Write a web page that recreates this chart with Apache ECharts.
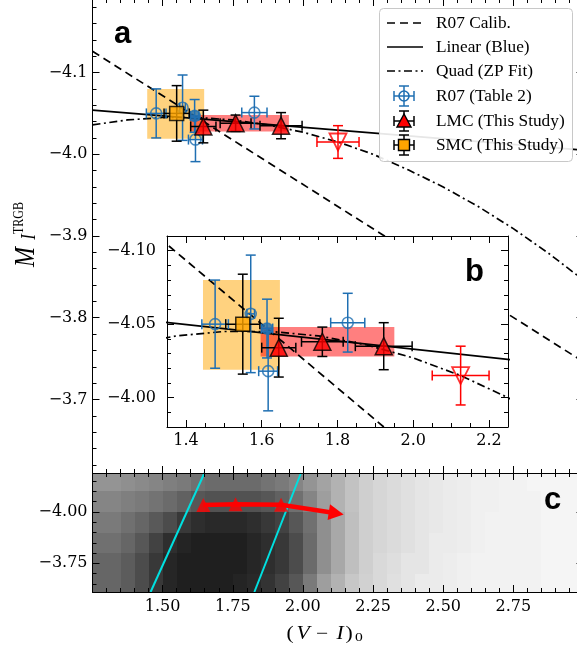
<!DOCTYPE html>
<html><head><meta charset="utf-8">
<script src="https://cdn.jsdelivr.net/npm/echarts@6/dist/echarts.min.js"></script>
<style>html,body{margin:0;padding:0;background:#fff}#c{width:577px;height:656px}</style>
</head><body><div id="c"></div>
<script>
// ---------------- DATA ----------------
const r07X    = [1.477, 1.571, 1.614, 1.617, 1.827];
const r07Y    = [-4.050, -4.057, -4.047, -4.018, -4.051];
const r07XErr = [0.035, 0.010, 0.015, 0.025, 0.045];
const r07YErr = [0.030, 0.040, 0.020, 0.027, 0.020];

const lmcX    = [1.645, 1.760, 1.922];
const lmcY    = [-4.034, -4.038, -4.035];
const lmcXErr = [0.045, 0.055, 0.075];
const lmcYErr = [0.020, 0.010, 0.016];

const smcX    = [1.550];
const smcY    = [-4.050];
const smcXErr = [0.045];
const smcYErr = [0.034];

const outX    = [2.125];
const outY    = [-4.015];
const outXErr = [0.075];
const outYErr = [0.020];

// shaded ranges: [x0, x1, y0, y1]
const smcBox = [1.445, 1.648, -4.080, -4.019];
const lmcBox = [1.597, 1.950, -4.048, -4.028];

// relations
const calibX = [1.25, 3.0];
const calibY = [-4.126, -3.746];
const linX   = [1.25, 3.0];
const linY   = [-4.054, -4.005];
const quadX  = [1.25, 1.375, 1.5, 1.625, 1.75, 1.875, 2.0, 2.125, 2.25, 2.375, 2.5, 2.625, 2.75, 2.875, 3.0];
const quadY  = [-4.036, -4.042, -4.045, -4.045, -4.042, -4.036, -4.027, -4.015, -4.000, -3.981, -3.960, -3.936, -3.909, -3.879, -3.846];

// panel c
const cyan1X = [1.649, 1.457], cyan1Y = [-4.19, -3.61];
const cyan2X = [1.993, 1.827], cyan2Y = [-4.19, -3.61];
const arrowX = [1.922, 2.145], arrowY = [-4.035, -3.988];

// star density of panel c (darkness 0..1), cells 0.05 wide in colour, 0.1 tall in magnitude
const cellX = [1.275,1.325,1.375,1.425,1.475,1.525,1.575,1.625,1.675,1.725,1.775,1.825,1.875,1.925,1.975,2.025,2.075,2.125,2.175,2.225,2.275,2.325,2.375,2.425,2.475,2.525,2.575,2.625,2.675,2.725,2.775,2.825,2.875,2.925,2.975];
const cellY = [-4.15, -4.05, -3.95, -3.85, -3.75, -3.65];
const densRow1 = [0.42,0.42,0.44,0.46,0.48,0.50,0.52,0.56,0.58,0.58,0.58,0.58,0.55,0.52,0.48,0.42,0.36,0.30,0.24,0.19,0.16,0.14,0.12,0.10,0.09,0.08,0.07,0.06,0.06,0.05,0.05,0.04,0.04,0.04,0.04];
const densRow2 = [0.48,0.48,0.50,0.52,0.55,0.58,0.62,0.66,0.68,0.68,0.68,0.68,0.66,0.62,0.56,0.48,0.38,0.30,0.24,0.19,0.16,0.14,0.12,0.10,0.09,0.08,0.07,0.06,0.06,0.05,0.05,0.05,0.04,0.04,0.04];
const densRow3 = [0.52,0.52,0.56,0.60,0.65,0.70,0.78,0.82,0.84,0.84,0.84,0.82,0.78,0.74,0.66,0.56,0.44,0.34,0.25,0.19,0.16,0.14,0.12,0.10,0.09,0.08,0.07,0.06,0.05,0.05,0.05,0.05,0.04,0.04,0.04];
const densRow4 = [0.56,0.56,0.60,0.66,0.74,0.82,0.86,0.88,0.88,0.88,0.88,0.85,0.82,0.78,0.70,0.58,0.44,0.34,0.25,0.19,0.16,0.14,0.12,0.10,0.08,0.08,0.07,0.06,0.05,0.05,0.05,0.05,0.04,0.04,0.04];
const densRow5 = [0.60,0.60,0.64,0.70,0.78,0.85,0.88,0.88,0.88,0.88,0.88,0.85,0.82,0.78,0.70,0.58,0.44,0.34,0.25,0.19,0.15,0.13,0.10,0.10,0.08,0.07,0.06,0.05,0.05,0.05,0.05,0.05,0.04,0.04,0.04];
const densRow6 = [0.60,0.60,0.64,0.70,0.78,0.85,0.88,0.88,0.88,0.88,0.86,0.84,0.80,0.74,0.66,0.52,0.38,0.30,0.22,0.18,0.15,0.12,0.10,0.08,0.08,0.07,0.06,0.05,0.05,0.05,0.05,0.05,0.04,0.04,0.04];
const density = [densRow1, densRow2, densRow3, densRow4, densRow5, densRow6];

const legendNames = ['R07 Calib.', 'Linear (Blue)', 'Quad (ZP Fit)', 'R07 (Table 2)', 'LMC (This Study)', 'SMC (This Study)'];
const panelLetters = ['a', 'b', 'c'];
const filledR07Index = 2;

// ---------------- helpers ----------------
const BLUE = '#1f6fb2', ORANGE = '#ffa500', RED = '#ff0000', CYAN = '#00e0e0';
const TICKF = {fontFamily: 'DejaVu Serif', fontSize: 16, color: '#000'};
const minus = s => s.replace('-', '\u2212');
function seq(a, b, step, excl) {
  const out = []; const n = Math.round((b - a) / step);
  for (let i = 0; i <= n; i++) {
    const v = +(a + i * step).toFixed(4);
    if (!excl || !excl.some(e => Math.abs(e - v) < 1e-9)) out.push(v);
  }
  return out;
}
const xAxes = [], yAxes = [];
function ax(gi, min, max, pos, inverse, z) {
  return {type: 'value', gridIndex: gi, min, max, position: pos, inverse: !!inverse, z: z || 0,
    splitLine: {show: false},
    axisLine: {show: true, onZero: false, lineStyle: {color: '#000', width: 1}},
    axisLabel: {show: false},
    axisTick: {show: true, inside: true, length: 7, lineStyle: {color: '#000', width: 1}},
    minorTick: {show: false}};
}
function addX(o) { xAxes.push(o); return xAxes.length - 1; }
function addY(o) { yAxes.push(o); return yAxes.length - 1; }
function customTicks(base, vals, len, labels) {
  base.axisTick = {show: true, inside: true, length: len, customValues: vals, lineStyle: {color: '#000', width: 1}};
  if (labels) base.axisLabel = Object.assign({show: true, customValues: vals}, TICKF, labels);
  return base;
}
function minorInterval(base, interval) {
  base.interval = interval;
  base.axisLine.show = false;
  base.axisTick = {show: true, inside: true, length: 4, lineStyle: {color: '#000', width: 1}};
  return base;
}

// ---- Grid A (main) ----
const xA = addX(Object.assign(ax(0, 1.25, 3.0, 'bottom'), {interval: 0.25,
  minorTick: {show: true, splitNumber: 5, length: 4, lineStyle: {color: '#000', width: 1}}}));
addX(Object.assign(ax(0, 1.25, 3.0, 'top'), {interval: 0.25,
  minorTick: {show: true, splitNumber: 5, length: 4, lineStyle: {color: '#000', width: 1}}}));
const majA = [-4.1, -4.0, -3.9, -3.8, -3.7];
const minA = seq(-4.18, -3.62, 0.02, majA);
const yA = addY(customTicks(ax(0, -4.19, -3.61, 'left', true), majA, 7,
  {margin: 5, formatter: v => minus((+v).toFixed(1))}));
addY(customTicks(ax(0, -4.19, -3.61, 'left', true), minA, 4));
addY(customTicks(ax(0, -4.19, -3.61, 'right', true), majA, 7));
addY(customTicks(ax(0, -4.19, -3.61, 'right', true), minA, 4));

// ---- Grid B (inset) ----
const majBx = [1.4, 1.6, 1.8, 2.0, 2.2];
const majBy = [-4.10, -4.05, -4.00];
const xB = addX(customTicks(ax(1, 1.35, 2.25, 'bottom', false, 20), majBx, 7,
  {margin: 6, formatter: v => (+v).toFixed(1)}));
addX(minorInterval(ax(1, 1.35, 2.25, 'bottom', false, 20), 0.05));
addX(customTicks(ax(1, 1.35, 2.25, 'top', false, 20), majBx, 7));
addX(minorInterval(ax(1, 1.35, 2.25, 'top', false, 20), 0.05));
const yB = addY(customTicks(ax(1, -4.11, -3.98, 'left', true, 20), majBy, 7,
  {margin: 11, formatter: v => minus((+v).toFixed(2))}));
addY(minorInterval(ax(1, -4.11, -3.98, 'left', true, 20), 0.01));
addY(customTicks(ax(1, -4.11, -3.98, 'right', true, 20), majBy, 7));
addY(minorInterval(ax(1, -4.11, -3.98, 'right', true, 20), 0.01));

// ---- Grid C (CMD) ----
const xC = addX(Object.assign(ax(2, 1.25, 3.0, 'bottom', false, 20), {interval: 0.25,
  minorTick: {show: true, splitNumber: 5, length: 4, lineStyle: {color: '#000', width: 1}},
  axisLabel: Object.assign({show: true, margin: 7, showMinLabel: false, showMaxLabel: false,
    formatter: v => (+v).toFixed(2)}, TICKF)}));
addX(Object.assign(ax(2, 1.25, 3.0, 'top', false, 20), {interval: 0.25,
  minorTick: {show: true, splitNumber: 5, length: 4, lineStyle: {color: '#000', width: 1}}}));
const majC = [-4.00, -3.75];
const minC = seq(-4.15, -3.65, 0.05, majC);
const yC = addY(customTicks(ax(2, -4.19, -3.61, 'left', true, 20), majC, 7,
  {margin: 5, formatter: v => minus((+v).toFixed(2))}));
addY(customTicks(ax(2, -4.19, -3.61, 'left', true, 20), minC, 4));
addY(customTicks(ax(2, -4.19, -3.61, 'right', true, 20), majC, 7));
addY(customTicks(ax(2, -4.19, -3.61, 'right', true, 20), minC, 4));

// ---------------- series builders ----------------
const pairs = (xs, ys) => xs.map((x, i) => [x, ys[i]]);
function lineSeries(name, xi, yi, xs, ys, style, z) {
  return {type: 'line', name, xAxisIndex: xi, yAxisIndex: yi, data: pairs(xs, ys), showSymbol: false,
    symbol: 'none', clip: true, z, silent: true, lineStyle: style};
}
function boxSeries(name, xi, yi, box, color, z) {
  return {type: 'custom', name, xAxisIndex: xi, yAxisIndex: yi, z, silent: true,
    data: [[box[0], box[1], box[2], box[3]]],
    encode: {x: [0, 1], y: [2, 3]},
    renderItem: (p, api) => {
      const a = api.coord([api.value(0), api.value(2)]), b = api.coord([api.value(1), api.value(3)]);
      return {type: 'rect', shape: {x: Math.min(a[0], b[0]), y: Math.min(a[1], b[1]),
        width: Math.abs(b[0] - a[0]), height: Math.abs(b[1] - a[1])}, style: {fill: color}};
    }};
}
function errSeries(name, xi, yi, xs, ys, xe, ye, color, z) {
  return {type: 'custom', name, xAxisIndex: xi, yAxisIndex: yi, z, silent: true,
    data: xs.map((x, i) => [x, ys[i], xe[i], ye[i]]),
    encode: {x: 0, y: 1},
    renderItem: (p, api) => {
      const x = api.value(0), y = api.value(1), dx = api.value(2), dy = api.value(3);
      const l = api.coord([x - dx, y]), r = api.coord([x + dx, y]);
      const t = api.coord([x, y - dy]), b = api.coord([x, y + dy]);
      const st = {stroke: color, lineWidth: 1.5, fill: null};
      const c = 5;
      const L = (x1, y1, x2, y2) => ({type: 'line', shape: {x1, y1, x2, y2}, style: st});
      return {type: 'group', children: [
        L(l[0], l[1], r[0], r[1]), L(t[0], t[1], b[0], b[1]),
        L(l[0], l[1] - c, l[0], l[1] + c), L(r[0], r[1] - c, r[0], r[1] + c),
        L(t[0] - c, t[1], t[0] + c, t[1]), L(b[0] - c, b[1], b[0] + c, b[1])]};
    }};
}
function markSeries(name, xi, yi, xs, ys, symbol, size, style, z, rotate, dataMap) {
  let data = pairs(xs, ys);
  if (dataMap) data = data.map(dataMap);
  return {type: 'scatter', name, xAxisIndex: xi, yAxisIndex: yi, data, symbol, symbolSize: size,
    symbolRotate: rotate || 0, itemStyle: style, z, silent: true};
}

const S = [];
function mainPanel(xi, yi, zb) {
  S.push(boxSeries('SMC range', xi, yi, smcBox, 'rgba(255,165,0,0.5)', zb + 1));
  S.push(boxSeries('LMC range', xi, yi, lmcBox, 'rgba(255,0,0,0.5)', zb + 1));
  S.push(lineSeries(legendNames[0], xi, yi, calibX, calibY, {color: '#000', width: 1.7, type: [8, 5]}, zb + 2));
  S.push(lineSeries(legendNames[1], xi, yi, linX, linY, {color: '#000', width: 1.7}, zb + 2));
  S.push(lineSeries(legendNames[2], xi, yi, quadX, quadY, {color: '#000', width: 1.7, type: [8, 3.5, 2, 3.5]}, zb + 2));
  S.push(errSeries(legendNames[3] + ' err', xi, yi, r07X, r07Y, r07XErr, r07YErr, BLUE, zb + 3));
  S.push(markSeries(legendNames[3], xi, yi, r07X, r07Y, 'circle', 11,
    {color: 'rgba(0,0,0,0)', borderColor: BLUE, borderWidth: 1.6}, zb + 4, 0,
    (d, i) => i === filledR07Index ? {value: d, itemStyle: {color: BLUE}} : d));
  S.push(errSeries('Red limit err', xi, yi, outX, outY, outXErr, outYErr, RED, zb + 5));
  S.push(markSeries('Red limit', xi, yi, outX, outY, 'triangle', 17,
    {color: 'rgba(0,0,0,0)', borderColor: RED, borderWidth: 1.8}, zb + 6, 180));
  S.push(errSeries(legendNames[4] + ' err', xi, yi, lmcX, lmcY, lmcXErr, lmcYErr, '#000', zb + 5));
  S.push(markSeries(legendNames[4], xi, yi, lmcX, lmcY, 'triangle', 17,
    {color: RED, borderColor: '#000', borderWidth: 1.5}, zb + 6));
  S.push(errSeries(legendNames[5] + ' err', xi, yi, smcX, smcY, smcXErr, smcYErr, '#000', zb + 7));
  S.push(markSeries(legendNames[5], xi, yi, smcX, smcY, 'rect', 14,
    {color: ORANGE, borderColor: '#000', borderWidth: 1.5}, zb + 8));
}
mainPanel(xA, yA, 0);
// white inset background
S.push({type: 'custom', name: 'inset bg', xAxisIndex: xB, yAxisIndex: yB, z: 10, silent: true,
  data: [[1.8, -4.05]], encode: {x: 0, y: 1},
  renderItem: (p) => ({type: 'rect', shape: {x: p.coordSys.x, y: p.coordSys.y,
    width: p.coordSys.width, height: p.coordSys.height}, style: {fill: '#fff'}})});
mainPanel(xB, yB, 10);

// panel c density cells
const cells = [];
cellY.forEach((y, j) => cellX.forEach((x, i) => cells.push([x, y, density[j][i]])));
S.push({type: 'custom', name: 'CMD density', xAxisIndex: xC, yAxisIndex: yC, z: 1, silent: true,
  data: cells, encode: {x: 0, y: 1},
  renderItem: (p, api) => {
    const x = api.value(0), y = api.value(1), d = api.value(2);
    const a = api.coord([x - 0.025, y - 0.05]), b = api.coord([x + 0.025, y + 0.05]);
    const x0 = Math.round(Math.min(a[0], b[0])), x1 = Math.round(Math.max(a[0], b[0]));
    const y0 = Math.round(Math.min(a[1], b[1])), y1 = Math.round(Math.max(a[1], b[1]));
    const cs = p.coordSys;
    const rect = echarts.graphic.clipRectByRect({x: x0, y: y0, width: x1 - x0, height: y1 - y0},
      {x: cs.x, y: cs.y, width: cs.width, height: cs.height});
    if (!rect) return null;
    return {type: 'rect', shape: rect, style: {fill: 'rgba(0,0,0,' + d + ')'}};
  }});
S.push(lineSeries('RGB edge 1', xC, yC, cyan1X, cyan1Y, {color: CYAN, width: 2}, 2));
S.push(lineSeries('RGB edge 2', xC, yC, cyan2X, cyan2Y, {color: CYAN, width: 2}, 2));
S.push(lineSeries('LMC track', xC, yC, lmcX, lmcY, {color: RED, width: 4.5}, 3));
S.push({type: 'custom', name: 'LMC shift', xAxisIndex: xC, yAxisIndex: yC, z: 3, silent: true,
  data: [[arrowX[0], arrowY[0], arrowX[1], arrowY[1]]], encode: {x: [0, 2], y: [1, 3]},
  renderItem: (p, api) => {
    const a = api.coord([api.value(0), api.value(1)]), b = api.coord([api.value(2), api.value(3)]);
    const dx = b[0] - a[0], dy = b[1] - a[1], len = Math.hypot(dx, dy);
    const ux = dx / len, uy = dy / len, hl = 15, hw = 8;
    const bx = b[0] - ux * hl, by = b[1] - uy * hl;
    return {type: 'group', children: [
      {type: 'line', shape: {x1: a[0], y1: a[1], x2: bx + ux, y2: by + uy}, style: {stroke: RED, lineWidth: 4.5}},
      {type: 'polygon', shape: {points: [[b[0], b[1]], [bx - uy * hw, by + ux * hw], [bx + uy * hw, by - ux * hw]]},
        style: {fill: RED}}]};
  }});
S.push(markSeries('LMC (panel c)', xC, yC, lmcX, lmcY, 'triangle', 14, {color: RED}, 4));

// ---------------- graphic: legend, panel letters, axis titles ----------------
const G = [];
G.push({type: 'rect', z: 100, shape: {x: 379.5, y: 8.5, width: 193, height: 153, r: 4},
  style: {fill: 'rgba(255,255,255,0.9)', stroke: '#c8c8c8', lineWidth: 1}});
const LY = [23, 47, 71, 96, 121, 145];
const LX0 = 387, LX1 = 423, LXC = 404;
G.push({type: 'line', z: 101, shape: {x1: LX0, y1: LY[0], x2: LX1, y2: LY[0]}, style: {stroke: '#000', lineWidth: 1.7, lineDash: [8, 5]}});
G.push({type: 'line', z: 101, shape: {x1: LX0, y1: LY[1], x2: LX1, y2: LY[1]}, style: {stroke: '#000', lineWidth: 1.7}});
G.push({type: 'line', z: 101, shape: {x1: LX0, y1: LY[2], x2: LX1, y2: LY[2]}, style: {stroke: '#000', lineWidth: 1.7, lineDash: [8, 3.5, 2, 3.5]}});
function legErr(cy, color) {
  const st = {stroke: color, lineWidth: 1.5};
  const h = 10, c = 5;
  [[LXC - h, cy, LXC + h, cy], [LXC, cy - h, LXC, cy + h], [LXC - h, cy - c, LXC - h, cy + c],
   [LXC + h, cy - c, LXC + h, cy + c], [LXC - c, cy - h, LXC + c, cy - h], [LXC - c, cy + h, LXC + c, cy + h]]
    .forEach(s => G.push({type: 'line', z: 101, shape: {x1: s[0], y1: s[1], x2: s[2], y2: s[3]}, style: st}));
}
legErr(LY[3], BLUE);
G.push({type: 'circle', z: 102, shape: {cx: LXC, cy: LY[3], r: 5}, style: {fill: null, stroke: BLUE, lineWidth: 1.6}});
legErr(LY[4], '#000');
G.push({type: 'polygon', z: 102, shape: {points: [[LXC, LY[4] - 7], [LXC - 7, LY[4] + 6], [LXC + 7, LY[4] + 6]]},
  style: {fill: RED, stroke: '#000', lineWidth: 1.4}});
legErr(LY[5], '#000');
G.push({type: 'rect', z: 102, shape: {x: LXC - 5.5, y: LY[5] - 5.5, width: 11, height: 11},
  style: {fill: ORANGE, stroke: '#000', lineWidth: 1.4}});
legendNames.forEach((n, i) => G.push({type: 'text', z: 102, x: 436, y: LY[i] + 1, scaleX: 1.08,
  style: {text: n, fontFamily: 'Liberation Serif', fontSize: 16, fill: '#000', align: 'left', verticalAlign: 'middle'}}));

// panel letters
[[114, 34, 0], [465, 272, 1], [544, 500, 2]].forEach(p => G.push({type: 'text', z: 102, x: p[0], y: p[1],
  style: {text: panelLetters[p[2]], fontFamily: 'Liberation Sans', fontWeight: 'bold', fontSize: 31, fill: '#000',
    align: 'left', verticalAlign: 'middle'}}));

// y title M_I^TRGB (rotated)
G.push({type: 'text', z: 102, x: 26, y: 257, rotation: Math.PI / 2, scaleY: 1.2,
  style: {text: 'M', fontFamily: 'Liberation Serif', fontStyle: 'italic', fontSize: 24, fill: '#000', align: 'center', verticalAlign: 'middle'}});
G.push({type: 'text', z: 102, x: 30, y: 237, rotation: Math.PI / 2, scaleY: 1.2,
  style: {text: 'I', fontFamily: 'Liberation Serif', fontStyle: 'italic', fontSize: 17, fill: '#000', align: 'center', verticalAlign: 'middle'}});
G.push({type: 'text', z: 102, x: 19, y: 218, rotation: Math.PI / 2, scaleY: 1.2,
  style: {text: 'TRGB', fontFamily: 'Liberation Serif', fontSize: 12, fill: '#000', align: 'center', verticalAlign: 'middle'}});

// x title (V - I)_0
[['(', 290, 'normal'], ['V', 303, 'italic'], ['\u2212', 322, 'normal'], ['I', 340, 'italic'], [')', 349, 'normal']]
  .forEach(p => G.push({type: 'text', z: 102, x: p[1], y: 634, scaleX: 1.2,
    style: {text: p[0], fontFamily: 'Liberation Serif', fontStyle: p[2], fontSize: 18, fill: '#000', align: 'center', verticalAlign: 'middle'}}));
G.push({type: 'text', z: 102, x: 359, y: 638, scaleX: 1.2,
  style: {text: '0', fontFamily: 'Liberation Serif', fontSize: 13, fill: '#000', align: 'center', verticalAlign: 'middle'}});

const chart = echarts.init(document.getElementById('c'), null, {renderer: 'canvas', width: 577, height: 656});
chart.setOption({
  animation: false,
  backgroundColor: '#fff',
  grid: [
    {left: 92.5, top: -1, width: 491, height: 474, containLabel: false, outerBoundsMode: 'none'},
    {left: 167, top: 236, width: 341, height: 191, containLabel: false, outerBoundsMode: 'none'},
    {left: 92.5, top: 473, width: 491, height: 119, containLabel: false, outerBoundsMode: 'none'}
  ],
  xAxis: xAxes,
  yAxis: yAxes,
  series: S,
  graphic: {elements: G}
});
</script></body></html>
